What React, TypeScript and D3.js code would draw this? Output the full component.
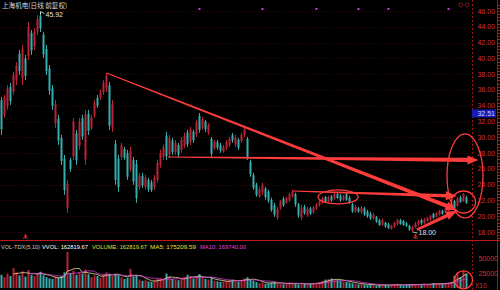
import React from 'react';
import * as d3 from 'd3';

const opens = [
  34.7, 32.8, 33.9, 36.4, 35.8, 37.2, 40.6, 37.5, 40.0, 40.3,
  43.2, 41.5, 43.4, 45.4, 43.0, 41.2, 38.7, 36.2, 31.8, 32.4,
  29.9, 27.3, 21.0, 27.1, 27.6, 30.5, 28.9, 32.4, 27.2, 33.0,
  31.2, 32.8, 35.0, 35.0, 35.7, 36.2, 36.6, 31.2, 29.2, 27.3,
  27.5, 28.5, 28.0, 26.0, 27.1, 26.6, 23.7, 25.1, 23.7, 24.6,
  24.3, 23.6, 24.6, 26.5, 27.5, 30.2, 27.8, 29.6, 28.1, 29.0,
  28.4, 29.0, 30.6, 29.4, 30.7, 30.4, 32.7, 31.2, 32.0, 30.6,
  29.8, 28.6, 29.4, 29.0, 28.2, 28.7, 29.0, 30.3, 29.1, 29.7,
  29.5, 30.3, 29.8, 26.9, 25.2, 24.0, 22.5, 23.0, 23.5, 23.1,
  22.1, 21.4, 19.8, 21.0, 22.2, 21.7, 22.0, 22.5, 22.8, 21.5,
  19.8, 21.2, 20.1, 21.0, 20.5, 21.0, 21.4, 21.7, 22.4, 21.9,
  22.5, 22.2, 22.8, 22.6, 22.1, 22.8, 22.3, 21.5, 20.6, 21.0,
  20.5, 21.0, 20.6, 20.3, 19.7, 19.9, 19.5, 18.9, 19.2, 19.0,
  18.4, 18.7, 19.0, 19.5, 19.4, 19.1, 18.8, 18.2, 18.6, 19.0,
  19.5, 19.1, 19.4, 19.6, 20.3, 19.9, 20.2, 20.7, 20.5, 20.7,
  21.0, 21.9, 21.3, 22.4, 21.9, 22.4,
];
const highs = [
  35.11, 35.37, 36.63, 36.89, 38.28, 39.54, 41.06, 41.70, 40.43, 44.61,
  43.59, 43.85, 45.49, 45.92, 43.34, 41.70, 39.16, 36.63, 34.73, 32.84,
  30.30, 27.77, 24.61, 27.39, 32.46, 30.94, 32.46, 32.84, 33.47, 33.47,
  32.84, 34.73, 35.37, 36.00, 37.27, 38.15, 37.01, 34.73, 29.67, 27.77,
  29.29, 28.78, 28.41, 28.78, 27.52, 27.14, 25.49, 25.49, 25.24, 24.86,
  24.61, 25.24, 27.14, 28.41, 29.04, 30.68, 30.30, 29.92, 29.67, 29.29,
  30.05, 30.56, 30.94, 31.32, 30.94, 32.20, 33.09, 32.58, 32.20, 31.82,
  30.05, 29.67, 29.67, 29.29, 29.04, 29.67, 30.05, 30.56, 30.30, 29.92,
  30.56, 31.32, 30.05, 27.14, 25.49, 24.23, 23.72, 24.23, 23.72, 23.34,
  22.33, 21.70, 21.19, 22.08, 22.46, 22.46, 22.96, 23.34, 22.96, 21.70,
  21.44, 21.44, 21.19, 21.19, 21.32, 21.70, 22.08, 22.46, 22.58, 22.58,
  22.71, 22.96, 22.96, 22.84, 22.71, 22.96, 22.58, 21.70, 21.44, 21.19,
  21.32, 21.19, 20.81, 20.56, 20.43, 20.05, 19.67, 19.67, 19.29, 19.16,
  18.91, 19.29, 19.67, 19.67, 19.54, 19.29, 18.91, 18.78, 19.29, 19.54,
  19.67, 19.80, 19.92, 20.18, 20.43, 20.56, 20.81, 20.81, 21.06, 21.19,
  21.57, 22.08, 22.46, 22.58, 22.96, 22.58,
];
const lows = [
  30.30, 32.46, 33.47, 34.10, 35.37, 36.63, 37.90, 36.63, 37.27, 39.80,
  40.43, 41.06, 42.96, 43.34, 40.05, 37.90, 35.37, 33.47, 31.19, 29.04,
  26.51, 22.71, 20.43, 25.62, 27.14, 26.51, 28.41, 29.67, 26.51, 30.30,
  30.94, 32.46, 33.72, 34.73, 35.37, 35.75, 30.94, 30.68, 23.97, 23.09,
  27.14, 27.14, 24.61, 25.62, 23.97, 21.70, 23.34, 23.59, 23.34, 23.09,
  23.09, 23.34, 24.23, 26.13, 27.14, 27.14, 27.39, 27.77, 27.77, 27.52,
  28.03, 28.66, 28.78, 29.04, 29.29, 30.05, 30.56, 30.94, 30.68, 30.30,
  27.52, 28.41, 28.41, 28.03, 28.03, 28.41, 28.78, 29.29, 28.78, 28.41,
  29.29, 30.05, 27.14, 24.99, 23.34, 22.46, 22.33, 22.71, 22.08, 21.70,
  20.56, 19.92, 19.54, 20.81, 21.19, 21.57, 21.82, 22.33, 21.19, 19.80,
  19.54, 20.18, 19.92, 20.18, 20.30, 20.81, 21.19, 21.57, 21.70, 21.70,
  21.82, 22.08, 22.20, 21.82, 21.95, 21.95, 21.57, 20.43, 20.43, 20.43,
  20.30, 20.05, 19.80, 19.54, 19.54, 19.16, 18.78, 18.78, 18.53, 18.40,
  18.28, 18.53, 18.78, 18.91, 18.78, 18.65, 18.15, 18.00, 18.53, 18.78,
  18.91, 19.04, 19.29, 19.41, 19.67, 19.80, 20.05, 20.18, 20.43, 20.56,
  20.81, 20.81, 21.19, 21.70, 21.82, 21.57,
];
const closes = [
  31.0, 35.0, 36.2, 34.6, 37.9, 39.1, 38.4, 41.2, 37.8, 44.0,
  41.0, 43.4, 45.0, 43.8, 40.5, 38.4, 35.9, 34.0, 34.2, 29.6,
  27.0, 23.3, 24.1, 26.0, 32.0, 27.1, 32.0, 30.1, 32.9, 30.8,
  32.5, 34.3, 34.0, 35.7, 36.9, 37.8, 31.5, 34.2, 24.6, 23.7,
  29.0, 27.4, 25.0, 28.3, 24.4, 22.3, 25.1, 23.9, 24.9, 23.4,
  23.3, 24.9, 26.8, 28.0, 28.7, 27.6, 29.9, 28.1, 29.3, 27.8,
  29.7, 30.2, 29.1, 31.0, 29.6, 31.9, 30.9, 32.3, 31.0, 31.6,
  27.9, 29.4, 28.7, 28.3, 28.8, 29.4, 29.8, 29.6, 30.0, 28.7,
  30.3, 31.0, 27.5, 25.3, 23.6, 22.7, 23.4, 24.0, 22.4, 22.0,
  20.8, 20.2, 20.9, 21.9, 21.4, 22.3, 22.8, 23.1, 21.5, 20.1,
  21.0, 20.4, 20.9, 20.3, 21.1, 21.5, 21.9, 22.3, 21.8, 22.4,
  22.0, 22.8, 22.3, 22.0, 22.6, 22.1, 21.7, 20.6, 21.2, 20.6,
  21.1, 20.2, 20.0, 19.7, 20.2, 19.3, 18.9, 19.5, 18.7, 18.5,
  18.8, 19.2, 19.5, 19.0, 18.9, 18.8, 18.3, 18.6, 19.1, 19.4,
  19.1, 19.6, 19.8, 20.0, 19.8, 20.4, 20.7, 20.3, 20.9, 21.1,
  21.4, 21.0, 22.2, 21.8, 22.8, 21.7,
];
const volumes = [
  22000, 18000, 24000, 20000, 33000, 26000, 21000, 28000, 19000, 30000,
  22000, 20000, 25000, 27000, 21000, 18000, 16000, 15000, 19000, 17000,
  20000, 26000, 60000, 25000, 29000, 22000, 26000, 24000, 31000, 23000,
  18000, 21000, 20000, 17000, 22000, 26000, 24000, 20000, 23000, 21000,
  18000, 15000, 17000, 32000, 19000, 22000, 14000, 12000, 13000, 11000,
  10000, 12000, 15000, 17000, 16000, 24000, 19000, 15000, 14000, 13000,
  16000, 18000, 22000, 20000, 16000, 19000, 23000, 17000, 15000, 14000,
  18000, 12000, 11000, 10000, 11000, 12000, 13000, 14000, 12000, 11000,
  13000, 16000, 18000, 14000, 12000, 10000, 8000, 9000, 7000, 8000,
  9000, 10000, 8000, 7000, 6000, 7000, 9000, 8000, 7000, 6000,
  8000, 7000, 6000, 7000, 8000, 9000, 10000, 12000, 14000, 15000,
  16000, 14000, 13000, 12000, 11000, 10000, 9000, 8000, 7000, 6000,
  7000, 6000, 5000, 6000, 5000, 4000, 5000, 6000, 5000, 4000,
  5000, 6000, 7000, 5000, 4000, 5000, 6000, 7000, 6000, 5000,
  6000, 7000, 6000, 7000, 8000, 7000, 8000, 7000, 8000, 9000,
  10000, 20000, 26000, 18000, 28000, 24000,
];
const priceTicks = [18, 20, 22, 24, 26, 28, 30, 32, 34, 36, 38, 40, 42, 44, 46];
const volTicks = [25000, 50000];
const eventMarks = [66, 87, 105, 119, 129, 149];
const upMarks = [8, 138];
const highIndex = 13;
const lowIndex = 137;
const cursorPrice = 32.51;
const volHeader = [
  { text: 'VOL-TDX(5,10)', color: '#c8c8c8' },
  { text: 'VVOL: 162819.67', color: '#ffffff' },
  { text: 'VOLUME: 162819.67', color: '#d8e040' },
  { text: 'MA5: 175209.59', color: '#e8e040' },
  { text: 'MA10: 169740.00', color: '#e040e0' },
];

// annotations in (candle index, price) terms
const arrowsDef = [
  { from: [35, 38.15], to: [151.8, 20.8], w1: 1.0, w2: 4.2 },
  { from: [55.5, 27.5], to: [159, 27.12], w1: 1.2, w2: 4.4 },
  { from: [97, 23.19], to: [151.8, 22.56], w1: 1.0, w2: 3.6 },
  { from: [138.5, 18.3], to: [151.8, 20.66], w1: 2.6, w2: 3.6 },
];
const ellipsesDef = [
  { c: [112.2, 22.44], rx: 20, ry: 7 },
  { c: [154.5, 25.1], rx: 18, ry: 42 },
  { c: [154, 21.8], rx: 12, ry: 11 },
];
const volCircle = { c: [154, 13500], r: 9 };

const UP = '#b82436';
const DOWN = '#38adad';
const ANNO = '#ff3c3c';
const AXIS = '#d43030';
const FONT = '"Liberation Sans", Arial, sans-serif';

function taper(x1: number, y1: number, x2: number, y2: number, w1: number, w2: number, hl = 11, hw = 9) {
  const dx = x2 - x1, dy = y2 - y1;
  const L = Math.hypot(dx, dy);
  const ux = dx / L, uy = dy / L;
  const nx = -uy, ny = ux;
  const bx = x2 - ux * hl, by = y2 - uy * hl;
  const p = [
    [x1 + nx * w1 / 2, y1 + ny * w1 / 2],
    [bx + nx * w2 / 2, by + ny * w2 / 2],
    [bx + nx * hw / 2, by + ny * hw / 2],
    [x2, y2],
    [bx - nx * hw / 2, by - ny * hw / 2],
    [bx - nx * w2 / 2, by - ny * w2 / 2],
    [x1 - nx * w1 / 2, y1 - ny * w1 / 2],
  ];
  return 'M' + p.map((q) => q[0].toFixed(2) + ',' + q[1].toFixed(2)).join('L') + 'Z';
}

export default function App() {
  const W = 500, H = 290;
  const x = d3.scaleLinear().domain([0, opens.length - 1]).range([1.5, 466.5]);
  const y = d3.scaleLinear().domain([18, 46]).range([232, 11]);
  const yv = d3.scaleLinear().domain([0, 50000]).range([288, 258]);

  const ma = (n: number) =>
    volumes.map((_, i) => (i < n - 1 ? null : (d3.mean(volumes.slice(i - n + 1, i + 1)) as number)));
  const ma5 = ma(5);
  const ma10 = ma(10);
  const vline = d3
    .line<number | null>()
    .defined((d) => d !== null)
    .x((_, i) => x(i))
    .y((d) => yv(d as number));

  const minor = d3.range(0, 75).map((k) => 17.2 + k * 0.4).filter((v) => y(v) >= 0 && y(v) <= 240);

  const hx = x(highIndex), hy = y(highs[highIndex]);
  const lx = x(lowIndex), ly = y(lows[lowIndex]);

  // header layout: widths proportional to character count
  const headerX = [1, 42, 92, 150, 200];
  const headerW = [39, 46, 55, 46, 46];

  return (
    <svg width={W} height={H} style={{ position: 'fixed', left: 0, top: 0, display: 'block' }} fontFamily={FONT}>
      <rect x={0} y={0} width={W} height={H} fill="#000" />
      {priceTicks.map((t) => (
        <line key={'g' + t} x1={0} x2={472} y1={Math.round(y(t)) + 0.5} y2={Math.round(y(t)) + 0.5} stroke="#3a0606" strokeDasharray="1 2" />
      ))}
      <line x1={472.5} x2={472.5} y1={0} y2={H} stroke="#a01414" strokeDasharray="2 2" />
      <line x1={497.5} x2={497.5} y1={0} y2={H} stroke="#a01414" />
      {minor.map((v, k) => (
        <line key={'m' + k} x1={497} x2={500} y1={Math.round(y(v)) + 0.5} y2={Math.round(y(v)) + 0.5} stroke="#b02020" />
      ))}
      <line x1={0} x2={W} y1={240.5} y2={240.5} stroke="#c01818" />
      {priceTicks.map((t) => (
        <text key={'t' + t} x={495} y={y(t) + 2.5} fontSize={7} fill={AXIS} textAnchor="end">
          {t.toFixed(2)}
        </text>
      ))}
      <rect x={472} y={y(cursorPrice) - 8} width={24} height={8} fill="#1a1ab4" />
      <text x={495} y={y(cursorPrice) - 1.5} fontSize={7} fill="#c8d0ff" textAnchor="end">
        {cursorPrice.toFixed(2)}
      </text>
      <circle cx={461} cy={5} r={2} fill="none" stroke="#902020" strokeWidth={0.8} />
      <circle cx={467} cy={5} r={2} fill="none" stroke="#902020" strokeWidth={0.8} />
      {eventMarks.map((i) => (
        <rect key={'e' + i} x={x(i) - 1} y={8} width={2} height={2} fill="#c040d0" />
      ))}
      {opens.map((o, i) => {
        const c = closes[i];
        const col = c >= o ? UP : DOWN;
        const top = y(Math.max(o, c));
        const bot = y(Math.min(o, c));
        return (
          <g key={'c' + i}>
            <line x1={x(i)} x2={x(i)} y1={y(highs[i])} y2={y(lows[i])} stroke={col} strokeWidth={1} />
            <rect x={x(i) - 1} y={top} width={2} height={Math.max(1, bot - top)} fill={col} />
          </g>
        );
      })}
      <text x={2} y={8} fontSize={6.6} fill="#d8d8d8" fontFamily={'"Noto Sans CJK SC", sans-serif'}>
        上海机电(日线 前复权)
      </text>
      <path d={`M${hx},${hy + 3}L${hx},${hy}L${hx + 4},${hy + 2}`} stroke="#e0e0e0" fill="none" strokeWidth={0.8} />
      <text x={hx + 5} y={hy + 5} fontSize={7} fill="#e0e0e0">
        {highs[highIndex].toFixed(2)}
      </text>
      <path d={`M${lx},${ly}L${lx + 5},${ly + 1}`} stroke="#e0e0e0" fill="none" strokeWidth={0.8} />
      <text x={lx + 6} y={ly + 3} fontSize={7} fill="#e0e0e0">
        {lows[lowIndex].toFixed(2)}
      </text>
      {upMarks.map((i) => (
        <path key={'u' + i} d={`M${x(i) - 2},${239}L${x(i)},${234}L${x(i) + 2},${239}M${x(i)},${234}L${x(i)},${239}`} stroke="#e02020" fill="none" strokeWidth={0.9} />
      ))}
      {arrowsDef.map((a, k) => (
        <path key={'a' + k} d={taper(x(a.from[0]), y(a.from[1]), x(a.to[0]), y(a.to[1]), a.w1, a.w2)} fill={ANNO} />
      ))}
      {ellipsesDef.map((e, k) => (
        <ellipse key={'el' + k} cx={x(e.c[0])} cy={y(e.c[1])} rx={e.rx} ry={e.ry} fill="none" stroke={ANNO} strokeWidth={1.3} />
      ))}
      <g fontSize={6}>
        {volHeader.map((h, k) => (
          <text key={'h' + k} x={headerX[k]} y={249} fill={h.color} textLength={headerW[k]} lengthAdjust="spacingAndGlyphs">
            {h.text}
          </text>
        ))}
      </g>
      {volumes.map((v, i) => {
        const col = closes[i] >= opens[i] ? UP : DOWN;
        return <rect key={'v' + i} x={x(i) - 1} y={yv(v)} width={2} height={yv(0) - yv(v)} fill={col} />;
      })}
      <path d={vline(ma5) || ''} fill="none" stroke="#e8e0a0" strokeWidth={0.8} />
      <path d={vline(ma10) || ''} fill="none" stroke="#d040d0" strokeWidth={0.8} />
      {volTicks.map((t) => (
        <text key={'vt' + t} x={498} y={yv(t) + 2.5} fontSize={7} fill={AXIS} textAnchor="end">
          {t}
        </text>
      ))}
      <text x={475} y={288} fontSize={6.5} fill={AXIS}>X10</text>
      <circle cx={x(volCircle.c[0])} cy={yv(volCircle.c[1])} r={volCircle.r} fill="none" stroke={ANNO} strokeWidth={1.3} />
    </svg>
  );
}
